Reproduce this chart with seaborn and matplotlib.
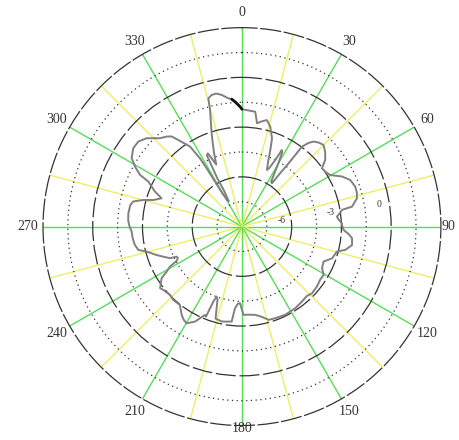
import numpy as np
import pandas as pd
import matplotlib
matplotlib.use("Agg")
import matplotlib.pyplot as plt
import seaborn as sns

# pattern trace: angle (deg, clockwise from top) and radius (ring units)
pattern_deg = [0, 3, 6.6, 8.3, 10.5, 13.2, 15.8, 18.8, 20.3, 22, 23.8, 25, 26.6, 27.5,
               28.5, 30, 31.4, 33, 34.7, 35.5, 36.4, 36.9, 38.5, 40.1, 42.5, 45, 48,
               51.3, 53.9, 57, 59.7, 63.4, 66.7, 70.6, 73.5, 76.2, 79.7, 80.5, 82.5,
               84, 86, 88, 89, 91.9, 94, 96, 99.5, 102.7, 104.7, 109.4, 113.2, 117.5,
               120.6, 124, 128.7, 133.6, 137, 141.3, 146.8, 153.9, 160, 164, 168,
               171.4, 176, 179, 181.5, 183, 184.9, 186.2, 190, 192, 196, 198.5,
               199.9, 200.9, 201.8, 202.7, 206.3, 209.8, 212, 214.3, 218.4, 223.1,
               226.5, 231.2, 233, 237.3, 239.1, 241, 242.4, 244, 245.3, 246.3,
               249.1, 251.6, 255.3, 257.3, 260.3, 264, 267.4, 270, 273, 276.7,
               281, 283, 285.1, 286.7, 289.4, 290.1, 291.9, 295.7, 296.9, 299.3,
               301.8, 305.8, 309.4, 312.8, 317.1, 320.1, 322, 323.7, 327, 328.4,
               328.8, 329, 329.5, 331, 332.5, 333.5, 333, 333.5, 333.8, 335, 336.1,
               337.5, 339, 340.5, 342, 343.5, 344.7, 345.3, 347, 349, 351.2, 353.9,
               355.4, 356.8, 359, 360]
pattern_r = [4.72, 4.68, 4.65, 4.2, 4.3, 4.4, 4.18, 3.75, 3.29, 2.8, 2.49, 2.6, 3.0, 3.47,
             3.4, 2.9, 2.5, 2.15, 2.12, 2.6, 3.16, 4.02, 4.3, 4.47, 4.58, 4.64, 4.5,
             4.29, 3.98, 4.02, 4.11, 4.5, 4.74, 4.83, 4.82, 4.76, 4.5, 4.08, 3.95,
             3.84, 3.9, 4.02, 4.02, 4.09, 4.3, 4.45, 4.49, 4.26, 3.95, 3.84, 3.57, 3.63,
             3.82, 3.8, 3.86, 3.89, 3.82, 3.86, 3.92, 3.95, 3.92, 3.9, 3.7,
             3.59, 3.55, 3.55, 3.08, 3.1, 3.3, 3.84, 3.88, 3.9, 3.85, 3.1,
             2.99, 3.23, 3.9, 3.85, 4.26, 4.48, 4.42, 4.3, 4.02, 4.04,
             3.99, 4.06, 4.12, 3.84, 3.53, 3.3, 2.95, 2.87, 2.89, 3.16,
             3.39, 3.62, 3.96, 4.27, 4.37, 4.42, 4.44, 4.52, 4.58, 4.6,
             4.57, 4.49, 4.11, 3.72, 3.43, 3.51, 3.77, 4.18, 4.6, 4.93,
             5.22, 5.39, 5.39, 5.23, 4.85, 4.72, 4.6, 4.32, 3.84, 3.23,
             2.74, 2.2, 1.57, 1.2, 1.15, 1.6, 2.2, 2.8, 3.2, 3.25, 3.0,
             2.7, 3.1, 3.5, 3.95, 4.4, 4.86, 5.33, 5.43, 5.45, 5.36, 5.19,
             5.14, 5.03, 4.83, 4.72]

# short dark segment near the top
marker_deg = [355.4, 356.8, 359, 360]
marker_r = [5.14, 5.03, 4.83, 4.72]

spoke_angles = list(range(0, 360, 15))
label_angles = list(range(0, 360, 30))
label_texts = [str(a) for a in label_angles]
rings = [1, 2, 3, 4, 5, 6, 7]
ring_label_pos = [2, 4, 6]
ring_label_txt = ["-6", "-3", "0"]

sns.set_style("white")
plt.rcParams["font.family"] = ["Liberation Serif", "DejaVu Serif"]

df = pd.DataFrame({"theta": np.deg2rad(pattern_deg), "r": pattern_r})
df_mark = pd.DataFrame({"theta": np.deg2rad(marker_deg), "r": marker_r})

fig = plt.figure(figsize=(4.6, 4.4), dpi=100)
ax = fig.add_axes([0.0935, 0.0325, 0.865, 0.905], projection="polar")
ax.set_theta_zero_location("N")
ax.set_theta_direction(-1)
ax.set_axisbelow(True)

sns.lineplot(data=df, x="theta", y="r", sort=False, estimator=None,
             color="#808080", lw=1.4, ax=ax)
sns.lineplot(data=df_mark, x="theta", y="r", sort=False, estimator=None,
             color="#111111", lw=2.0, ax=ax)

ax.set_ylim(0, 8)
ax.set_yticks(rings)
ax.set_yticklabels([])
ax.set_xticks(np.deg2rad(spoke_angles))
ax.set_xticklabels([])
ax.set_xlabel("")
ax.set_ylabel("")

# outer ring as a long-dash circle
sp = ax.spines["polar"]
sp.set_color("#333333")
sp.set_linewidth(0.9)
sp.set_linestyle((0, (16, 3)))

for i, tick in enumerate(ax.xaxis.get_major_ticks()):
    tick.gridline.set_color("#55dd55" if i % 2 == 0 else "#eeee66")
    tick.gridline.set_linewidth(1.0)
    tick.gridline.set_linestyle("-")
    tick.gridline.set_alpha(1)

for i, tick in enumerate(ax.yaxis.get_major_ticks()):
    gl = tick.gridline
    gl.set_color("#333333")
    gl.set_linewidth(0.9)
    gl.set_alpha(1)
    if (i + 1) % 2 == 0:
        gl.set_dashes((16, 3))
    else:
        gl.set_dashes((1, 2.8))

# angle labels around the rim
for a, txt in zip(label_angles, label_texts):
    rr = 8.6
    if a == 180:
        rr = 8.1
    if a == 90:
        rr = 8.3
    ax.text(np.deg2rad(a), rr, txt, fontsize=10, color="#333333",
            ha="center", va="center", clip_on=False)

for pos, txt in zip(ring_label_pos, ring_label_txt):
    ax.text(np.deg2rad(81), pos - 0.4, txt, fontsize=7, color="#333333",
            ha="center", va="center")

fig.savefig("out.png", dpi=100)
